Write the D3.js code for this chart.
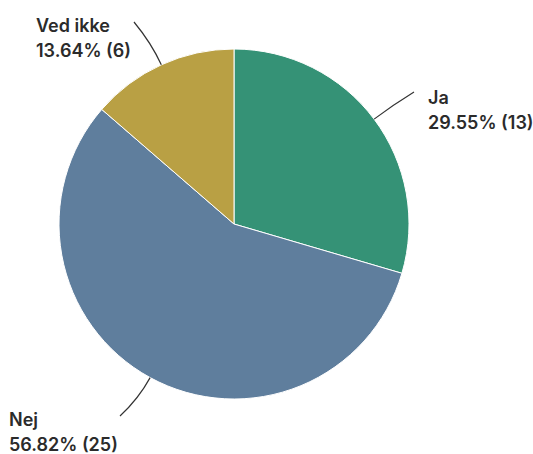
<!DOCTYPE html>
<html>
<head>
<meta charset="utf-8">
<script src="https://cdn.jsdelivr.net/npm/d3@7"></script>
<style>
  html, body { margin: 0; padding: 0; background: #fff; }
  svg { display: block; }
  .lbl { font-family: Inter, "Noto Sans", sans-serif; font-weight: 600; font-size: 18px; fill: #2b2b2b; }
</style>
</head>
<body>
<svg id="chart" width="533" height="454"></svg>
<script>
// Survey answers
const categories = ["Ja", "Nej", "Ved ikke"];
const counts = [13, 25, 6];
const percents = [29.55, 56.82, 13.64];
const colors = ["#359276", "#5f7e9d", "#b9a044"];

// Label anchor (text start) and leader-line end for each answer
const labelPos = [
  { tx: 428, ty: 104, lx: 414, ly: 92 },
  { tx: 9, ty: 426, lx: 120, ly: 416 },
  { tx: 36, ty: 32, lx: 134, ly: 22 }
];

const width = 533, height = 454;
const cx = 234, cy = 224, r = 175;

const svg = d3.select("#chart");
const g = svg.append("g").attr("transform", `translate(${cx},${cy})`);

const data = categories.map((c, i) => ({ name: c, value: counts[i], pct: percents[i], color: colors[i], pos: labelPos[i] }));

const pie = d3.pie().value(d => d.value).sort(null);
const arc = d3.arc().innerRadius(0).outerRadius(r);
const arcs = pie(data);

g.selectAll("path.slice")
  .data(arcs)
  .join("path")
  .attr("class", "slice")
  .attr("d", arc)
  .attr("fill", d => d.data.color)
  .attr("stroke", "#ffffff")
  .attr("stroke-width", 1);

// Curved leader lines from slice edge to labels
arcs.forEach(a => {
  const mid = (a.startAngle + a.endAngle) / 2;
  const sx = cx + r * Math.sin(mid), sy = cy - r * Math.cos(mid);
  const qx = cx + (r + 24) * Math.sin(mid), qy = cy - (r + 24) * Math.cos(mid);
  const p = a.data.pos;
  svg.append("path")
    .attr("d", `M${sx},${sy} Q${qx},${qy} ${p.lx},${p.ly}`)
    .attr("fill", "none")
    .attr("stroke", "#333")
    .attr("stroke-width", 1.2);
});

// Labels: name and "pct% (count)"
arcs.forEach(a => {
  const p = a.data.pos;
  svg.append("text").attr("class", "lbl").attr("x", p.tx).attr("y", p.ty)
    .text(a.data.name);
  svg.append("text").attr("class", "lbl").attr("x", p.tx).attr("y", p.ty + 25)
    .text(`${a.data.pct.toFixed(2)}% (${a.data.value})`);
});
</script>
</body>
</html>
